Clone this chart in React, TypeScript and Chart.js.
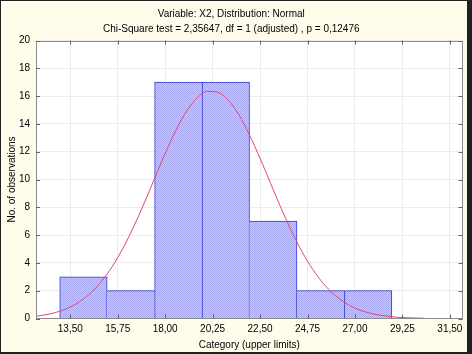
import React, { useEffect, useRef } from 'react';
import { Chart, registerables } from 'chart.js';

Chart.register(...registerables);

const TITLE_LINES = [
  'Variable: X2, Distribution: Normal',
  'Chi-Square test = 2,35647, df = 1 (adjusted) , p = 0,12476',
];
const X_TITLE = 'Category (upper limits)';
const Y_TITLE = 'No. of observations';

// histogram bins (midpoints) and observed counts
const BIN_MIDPOINTS = [14.125, 16.375, 18.625, 20.875, 23.125, 25.375, 27.625];
const COUNTS = [3, 2, 17, 17, 7, 2, 2];

// expected normal curve
const CURVE_X = [
  11.875, 12.5, 13, 13.5, 14, 14.5, 15, 15.5, 16, 16.5, 17, 17.5, 18, 18.5, 19, 19.5,
  20, 20.5, 21, 21.5, 22, 22.5, 23, 23.5, 24, 24.5, 25, 25.5, 26, 26.5, 27, 27.5, 28,
  28.5, 29, 29.5, 30, 30.3,
];
const CURVE_Y = [
  0.16, 0.32, 0.52, 0.82, 1.27, 1.88, 2.71, 3.76, 5.06, 6.58, 8.28, 10.08, 11.87, 13.51,
  14.88, 15.85, 16.34, 16.28, 15.7, 14.64, 13.2, 11.52, 9.72, 7.93, 6.26, 4.78, 3.53,
  2.52, 1.74, 1.16, 0.75, 0.47, 0.29, 0.17, 0.09, 0.05, 0.03, 0.02,
];

const X_TICKS = [13.5, 15.75, 18, 20.25, 22.5, 24.75, 27, 29.25, 31.5];
const X_TICK_LABELS = ['13,50', '15,75', '18,00', '20,25', '22,50', '24,75', '27,00', '29,25', '31,50'];
const Y_TICKS = [0, 2, 4, 6, 8, 10, 12, 14, 16, 18, 20];

const FONT = '"Liberation Sans", Arial, sans-serif';

export default function App() {
  const ref = useRef<HTMLCanvasElement>(null);

  useEffect(() => {
    const canvas = ref.current!;
    const pc = document.createElement('canvas');
    pc.width = 2;
    pc.height = 2;
    const p = pc.getContext('2d')!;
    p.fillStyle = '#c6c6fb';
    p.fillRect(0, 0, 2, 2);
    p.fillStyle = '#a8a8f1';
    p.fillRect(0, 0, 1, 1);
    p.fillRect(1, 1, 1, 1);
    const pattern = canvas.getContext('2d')!.createPattern(pc, 'repeat');

    const framePlugin = {
      id: 'frame',
      beforeDraw(chart: any) {
        const { ctx, width, height, chartArea: a } = chart;
        ctx.save();
        ctx.fillStyle = '#202020';
        ctx.fillRect(0, 0, width, height);
        ctx.fillStyle = '#fffcec';
        ctx.fillRect(1, 1, width - 6, height - 3);
        ctx.fillStyle = '#ffffff';
        ctx.fillRect(a.left, a.top, a.right - a.left, a.bottom - a.top);
        ctx.restore();
      },
      afterDraw(chart: any) {
        const { ctx, chartArea: a, scales } = chart;
        ctx.save();
        ctx.lineWidth = 1;
        ctx.strokeStyle = '#8c8c8c';
        ctx.strokeRect(Math.round(a.left) + 0.5, Math.round(a.top) + 0.5,
          Math.round(a.right - a.left) - 1, Math.round(a.bottom - a.top) - 1);
        ctx.strokeStyle = '#666666';
        ctx.beginPath();
        for (const v of X_TICKS) {
          const x = Math.round(scales.x.getPixelForValue(v)) + 0.5;
          ctx.moveTo(x, a.top);
          ctx.lineTo(x, a.top + 4);
          ctx.moveTo(x, a.bottom);
          ctx.lineTo(x, a.bottom - 4);
        }
        for (const v of Y_TICKS) {
          const y = Math.round(scales.y.getPixelForValue(v)) + 0.5;
          ctx.moveTo(a.left, y);
          ctx.lineTo(a.left + 4, y);
          ctx.moveTo(a.right, y);
          ctx.lineTo(a.right - 4, y);
        }
        ctx.stroke();
        ctx.restore();
      },
    };

    const last = COUNTS.length - 1;
    const chart = new Chart(canvas, {
      type: 'bar',
      data: {
        datasets: [
          {
            type: 'line',
            data: CURVE_X.map((x, i) => ({ x, y: CURVE_Y[i] })),
            borderColor: '#e2476c',
            borderWidth: 1,
            pointRadius: 0,
            cubicInterpolationMode: 'monotone',
            fill: false,
            order: 0,
          } as any,
          {
            type: 'bar',
            data: BIN_MIDPOINTS.map((x, i) => ({ x, y: COUNTS[i] })),
            backgroundColor: pattern as any,
            borderColor: '#3636d6',
            borderWidth: (c: any) => {
              const i = c.dataIndex;
              return {
                top: 1,
                bottom: 0,
                left: i === 0 || COUNTS[i - 1] <= COUNTS[i] ? 1 : 0,
                right: i === last || COUNTS[i + 1] < COUNTS[i] ? 1 : 0,
              };
            },
            borderSkipped: false,
            barPercentage: 1,
            categoryPercentage: 1,
            order: 1,
          } as any,
        ],
      },
      options: {
        responsive: false,
        animation: false,
        layout: { padding: { left: 0, right: 9.5, top: 0, bottom: 0 } },
        plugins: {
          legend: { display: false },
          tooltip: { enabled: false },
          title: {
            display: true,
            text: TITLE_LINES,
            color: '#000',
            font: { family: FONT, size: 10, weight: 'normal', lineHeight: 1.5 },
            padding: { top: 6.5, bottom: 4 },
          },
        },
        scales: {
          x: {
            type: 'linear',
            min: 11.875,
            max: 32.1,
            offset: false,
            afterBuildTicks: (s: any) => {
              s.ticks = X_TICKS.map((v) => ({ value: v }));
            },
            afterFit: (s: any) => {
              s.height = 35.5;
            },
            ticks: {
              autoSkip: false,
              maxRotation: 0,
              color: '#000',
              font: { family: FONT, size: 10 },
              padding: 5,
              callback: (v: any) => {
                const i = X_TICKS.indexOf(Number(v));
                return i >= 0 ? X_TICK_LABELS[i] : '';
              },
            },
            grid: { color: '#ececec', drawTicks: false, offset: false },
            border: { display: false },
            title: {
              display: true,
              text: X_TITLE,
              color: '#000',
              font: { family: FONT, size: 10 },
              padding: { top: 0, bottom: 2.5 },
            },
          } as any,
          y: {
            type: 'linear',
            min: 0,
            max: 20,
            afterFit: (s: any) => {
              s.width = 36;
            },
            ticks: {
              stepSize: 2,
              color: '#000',
              font: { family: FONT, size: 10 },
              padding: 6,
            },
            grid: { color: '#ececec', drawTicks: false },
            border: { display: false },
            title: {
              display: true,
              text: Y_TITLE,
              color: '#000',
              font: { family: FONT, size: 10 },
              padding: { top: 6, bottom: 0 },
            },
          } as any,
        },
      },
      plugins: [framePlugin],
    });

    return () => chart.destroy();
  }, []);

  return (
    <div style={{ position: 'fixed', left: 0, top: 0, width: 472, height: 354 }}>
      <canvas ref={ref} width={472} height={354} style={{ display: 'block', width: 472, height: 354 }} />
    </div>
  );
}
